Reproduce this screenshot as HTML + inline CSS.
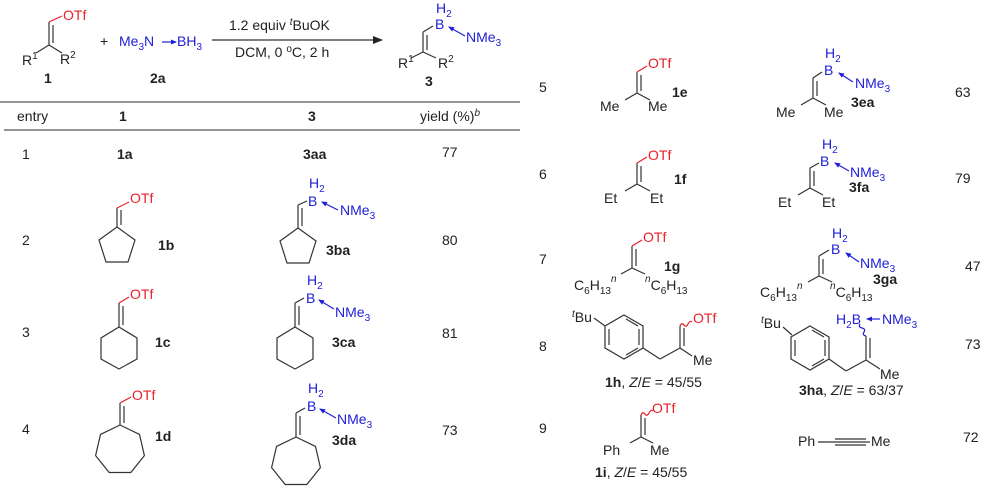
<!DOCTYPE html>
<html><head><meta charset="utf-8"><style>
html,body{margin:0;padding:0;background:#fff;}
svg{display:block;font-family:"Liberation Sans",Arial,sans-serif;font-size:14px;}
.b{font-weight:bold;}
.r{fill:#e8202a;}
.u{fill:#2020d8;}
line,polyline,polygon,path{stroke:#333;stroke-width:1.2;fill:none;}
.rs{stroke:#e8202a;}
.us{stroke:#2020d8;}
text{fill:#222;}
</style></head><body>
<svg width="997" height="501" viewBox="0 0 997 501" xmlns="http://www.w3.org/2000/svg">
<defs>
<marker id="ah" markerWidth="6" markerHeight="5" refX="5" refY="2.5" orient="auto" markerUnits="userSpaceOnUse"><path d="M0,0 L6,2.5 L0,5 Z" style="fill:#2020d8;stroke:none"/></marker>
<marker id="ak" markerWidth="10" markerHeight="8" refX="9" refY="4" orient="auto" markerUnits="userSpaceOnUse"><path d="M0,0 L10,4 L0,8 Z" style="fill:#222;stroke:none"/></marker>
</defs>

<!-- Header scheme -->
<line x1="49" y1="22" x2="49" y2="45"/><line x1="53" y1="25" x2="53" y2="43"/>
<line class="rs" x1="49" y1="22" x2="62" y2="16"/>
<text x="63" y="20" class="r">OTf</text>
<line x1="49" y1="45" x2="36" y2="53"/><line x1="49" y1="45" x2="62" y2="53"/>
<text x="22" y="65">R<tspan font-size="10" dy="-6">1</tspan></text>
<text x="60" y="64">R<tspan font-size="10" dy="-6">2</tspan></text>
<text x="44" y="83" class="b">1</text>
<text x="100" y="46">+</text>
<text x="119" y="46" class="u">Me<tspan font-size="10" dy="4">3</tspan><tspan dy="-4">N</tspan></text>
<line class="us" x1="162" y1="42" x2="176" y2="42" marker-end="url(#ah)"/>
<text x="177" y="46" class="u">BH<tspan font-size="10" dy="4">3</tspan></text>
<text x="150" y="83" class="b">2a</text>
<line x1="212" y1="40" x2="382" y2="40" marker-end="url(#ak)"/>
<text x="229" y="30">1.2 equiv <tspan font-style="italic" font-size="10" dy="-5">t</tspan><tspan dy="5">BuOK</tspan></text>
<text x="235" y="57">DCM, 0 <tspan font-size="10" dy="-5">o</tspan><tspan dy="5">C, 2 h</tspan></text>
<text x="436" y="13" class="u">H<tspan font-size="10" dy="4">2</tspan></text>
<text x="435" y="29" class="u">B</text>
<line x1="423" y1="32" x2="433" y2="26"/>
<line x1="423" y1="32" x2="423" y2="52"/><line x1="427" y1="35" x2="427" y2="50"/>
<line x1="423" y1="52" x2="411" y2="58"/><line x1="423" y1="52" x2="436" y2="58"/>
<line class="us" x1="465" y1="36" x2="449" y2="27" marker-end="url(#ah)"/>
<text x="466" y="42" class="u">NMe<tspan font-size="10" dy="4">3</tspan></text>
<text x="398" y="68">R<tspan font-size="10" dy="-6">1</tspan></text>
<text x="438" y="68">R<tspan font-size="10" dy="-6">2</tspan></text>
<text x="425" y="86" class="b">3</text>

<!-- Table lines -->
<line x1="0" y1="102" x2="520" y2="102" style="stroke:#555"/>
<line x1="4" y1="130" x2="520" y2="130" style="stroke:#555"/>
<text x="17" y="121">entry</text>
<text x="119" y="121" class="b">1</text>
<text x="308" y="121" class="b">3</text>
<text x="420" y="121">yield (%)<tspan font-size="10" dy="-5" font-style="italic">b</tspan></text>

<!-- Row 1 -->
<text x="22" y="159">1</text>
<text x="117" y="159" class="b">1a</text>
<text x="303" y="159" class="b">3aa</text>
<text x="442" y="157">77</text>

<!-- Row 2 -->
<text x="22" y="245">2</text>
<line x1="117" y1="208" x2="117" y2="227"/><line x1="121" y1="210" x2="121" y2="225"/>
<line class="rs" x1="117" y1="208" x2="129" y2="202"/>
<text x="130" y="203" class="r">OTf</text>
<polygon points="117,227 135,240 128,262 106,262 99,240"/>
<text x="158" y="250" class="b">1b</text>
<text x="309" y="188" class="u">H<tspan font-size="10" dy="4">2</tspan></text>
<text x="308" y="206" class="u">B</text>
<line x1="298" y1="205" x2="307" y2="201"/>
<line x1="298" y1="205" x2="298" y2="228"/><line x1="302" y1="208" x2="302" y2="226"/>
<polygon points="298,228 316,241 309,263 287,263 280,241"/>
<line class="us" x1="338" y1="210" x2="322" y2="202" marker-end="url(#ah)"/>
<text x="340" y="215" class="u">NMe<tspan font-size="10" dy="4">3</tspan></text>
<text x="326" y="255" class="b">3ba</text>
<text x="442" y="245">80</text>

<!-- Row 3 -->
<text x="22" y="337">3</text>
<line x1="119" y1="303" x2="119" y2="327"/><line x1="123" y1="306" x2="123" y2="325"/>
<line class="rs" x1="119" y1="303" x2="129" y2="297"/>
<text x="130" y="299" class="r">OTf</text>
<polygon points="119,327 137,338 137,359 119,369 101,359 101,338"/>
<text x="155" y="347" class="b">1c</text>
<text x="307" y="285" class="u">H<tspan font-size="10" dy="4">2</tspan></text>
<text x="306" y="303" class="u">B</text>
<line x1="295" y1="303" x2="304" y2="298"/>
<line x1="295" y1="303" x2="295" y2="327"/><line x1="299" y1="306" x2="299" y2="325"/>
<polygon points="295,327 313,338 313,359 295,369 277,359 277,338"/>
<line class="us" x1="334" y1="309" x2="319" y2="300" marker-end="url(#ah)"/>
<text x="335" y="317" class="u">NMe<tspan font-size="10" dy="4">3</tspan></text>
<text x="332" y="347" class="b">3ca</text>
<text x="442" y="338">81</text>

<!-- Row 4 -->
<text x="22" y="434">4</text>
<line x1="120" y1="403" x2="120" y2="425"/><line x1="124" y1="406" x2="124" y2="423"/>
<line class="rs" x1="120" y1="403" x2="131" y2="397"/>
<text x="132" y="400" class="r">OTf</text>
<polygon points="120,425 139.5,434.4 144.4,455.6 130.8,472.5 109.2,472.5 95.6,455.6 100.5,434.4"/>
<text x="155" y="441" class="b">1d</text>
<text x="308" y="393" class="u">H<tspan font-size="10" dy="4">2</tspan></text>
<text x="307" y="411" class="u">B</text>
<line x1="296" y1="413" x2="305" y2="408"/>
<line x1="296" y1="413" x2="296" y2="437"/><line x1="300" y1="416" x2="300" y2="435"/>
<polygon points="296,437 315.5,446.4 320.4,467.6 306.8,484.5 285.2,484.5 271.6,467.6 276.5,446.4"/>
<line class="us" x1="336" y1="418" x2="320" y2="409" marker-end="url(#ah)"/>
<text x="337" y="424" class="u">NMe<tspan font-size="10" dy="4">3</tspan></text>
<text x="332" y="445" class="b">3da</text>
<text x="442" y="435">73</text>

<!-- Row 5 -->
<text x="539" y="92">5</text>
<line x1="637" y1="72" x2="637" y2="93"/><line x1="641" y1="75" x2="641" y2="91"/>
<line class="rs" x1="637" y1="72" x2="647" y2="66"/>
<text x="648" y="68" class="r">OTf</text>
<line x1="637" y1="93" x2="625" y2="100"/><line x1="637" y1="93" x2="650" y2="100"/>
<text x="600" y="111">Me</text><text x="648" y="111">Me</text>
<text x="672" y="97" class="b">1e</text>
<text x="825" y="58" class="u">H<tspan font-size="10" dy="4">2</tspan></text>
<text x="824" y="75" class="u">B</text>
<line x1="813" y1="78" x2="822" y2="72"/>
<line x1="813" y1="78" x2="813" y2="98"/><line x1="817" y1="81" x2="817" y2="96"/>
<line x1="813" y1="98" x2="801" y2="105"/><line x1="813" y1="98" x2="826" y2="105"/>
<text x="776" y="117">Me</text><text x="824" y="117">Me</text>
<line class="us" x1="853" y1="82" x2="839" y2="73" marker-end="url(#ah)"/>
<text x="855" y="88" class="u">NMe<tspan font-size="10" dy="4">3</tspan></text>
<text x="851" y="107" class="b">3ea</text>
<text x="955" y="97">63</text>

<!-- Row 6 -->
<text x="539" y="179">6</text>
<line x1="637" y1="163" x2="637" y2="184"/><line x1="641" y1="166" x2="641" y2="182"/>
<line class="rs" x1="637" y1="163" x2="647" y2="157"/>
<text x="648" y="160" class="r">OTf</text>
<line x1="637" y1="184" x2="625" y2="191"/><line x1="637" y1="184" x2="650" y2="191"/>
<text x="604" y="203">Et</text><text x="650" y="203">Et</text>
<text x="674" y="184" class="b">1f</text>
<text x="822" y="149" class="u">H<tspan font-size="10" dy="4">2</tspan></text>
<text x="820" y="166" class="u">B</text>
<line x1="810" y1="168" x2="819" y2="163"/>
<line x1="810" y1="168" x2="810" y2="188"/><line x1="814" y1="171" x2="814" y2="186"/>
<line x1="810" y1="188" x2="798" y2="195"/><line x1="810" y1="188" x2="823" y2="195"/>
<text x="778" y="207">Et</text><text x="822" y="207">Et</text>
<line class="us" x1="849" y1="171" x2="835" y2="163" marker-end="url(#ah)"/>
<text x="850" y="177" class="u">NMe<tspan font-size="10" dy="4">3</tspan></text>
<text x="849" y="192" class="b">3fa</text>
<text x="955" y="183">79</text>

<!-- Row 7 -->
<text x="539" y="264">7</text>
<line x1="632" y1="246" x2="632" y2="268"/><line x1="636" y1="249" x2="636" y2="266"/>
<line class="rs" x1="632" y1="246" x2="642" y2="240"/>
<text x="643" y="242" class="r">OTf</text>
<line x1="632" y1="268" x2="621" y2="274"/><line x1="632" y1="268" x2="645" y2="274"/>
<text x="574" y="290">C<tspan font-size="10" dy="4">6</tspan><tspan dy="-4">H</tspan><tspan font-size="10" dy="4">13</tspan><tspan font-size="10" font-style="italic" dy="-12">n</tspan></text>
<text x="645" y="290"><tspan font-size="10" font-style="italic" dy="-8">n</tspan><tspan dy="8">C</tspan><tspan font-size="10" dy="4">6</tspan><tspan dy="-4">H</tspan><tspan font-size="10" dy="4">13</tspan></text>
<text x="664" y="271" class="b">1g</text>
<text x="832" y="238" class="u">H<tspan font-size="10" dy="4">2</tspan></text>
<text x="831" y="254" class="u">B</text>
<line x1="819" y1="256" x2="829" y2="250"/>
<line x1="819" y1="256" x2="819" y2="276"/><line x1="823" y1="259" x2="823" y2="274"/>
<line x1="819" y1="276" x2="808" y2="282"/><line x1="819" y1="276" x2="832" y2="282"/>
<text x="760" y="297">C<tspan font-size="10" dy="4">6</tspan><tspan dy="-4">H</tspan><tspan font-size="10" dy="4">13</tspan><tspan font-size="10" font-style="italic" dy="-12">n</tspan></text>
<text x="830" y="297"><tspan font-size="10" font-style="italic" dy="-8">n</tspan><tspan dy="8">C</tspan><tspan font-size="10" dy="4">6</tspan><tspan dy="-4">H</tspan><tspan font-size="10" dy="4">13</tspan></text>
<line class="us" x1="859" y1="262" x2="846" y2="253" marker-end="url(#ah)"/>
<text x="860" y="268" class="u">NMe<tspan font-size="10" dy="4">3</tspan></text>
<text x="873" y="284" class="b">3ga</text>
<text x="965" y="271">47</text>

<!-- Row 8 -->
<text x="539" y="351">8</text>
<text x="572" y="322"><tspan font-style="italic" font-size="10" dy="-5">t</tspan><tspan dy="5">Bu</tspan></text>
<line x1="594" y1="318" x2="605" y2="326"/>
<polygon points="624,315 643,326 643,348 624,359 605,348 605,326"/>
<line x1="609" y1="329" x2="609" y2="345"/><line x1="639" y1="329" x2="639" y2="345"/>
<line x1="626" y1="319" x2="638" y2="326"/><line x1="626" y1="355" x2="638" y2="348"/>
<line x1="643" y1="348" x2="660" y2="359"/><line x1="660" y1="359" x2="680" y2="348"/>
<line x1="680" y1="348" x2="680" y2="326"/><line x1="684" y1="346" x2="684" y2="328"/>
<path class="rs" d="M680,326 q2,-4 4,-1 q2,3 4,-1 q2,-4 4,-2"/>
<text x="693" y="323" class="r">OTf</text>
<line x1="680" y1="348" x2="692" y2="356"/>
<text x="693" y="365">Me</text>
<text x="605" y="387"><tspan class="b">1h</tspan>, <tspan font-style="italic">Z</tspan>/<tspan font-style="italic">E</tspan> = 45/55</text>
<text x="761" y="328"><tspan font-style="italic" font-size="10" dy="-5">t</tspan><tspan dy="5">Bu</tspan></text>
<line x1="783" y1="327" x2="792" y2="335"/>
<polygon points="810,326 829,337 829,359 810,370 791,359 791,337"/>
<line x1="795" y1="340" x2="795" y2="356"/><line x1="825" y1="340" x2="825" y2="356"/>
<line x1="812" y1="330" x2="824" y2="337"/><line x1="812" y1="366" x2="824" y2="359"/>
<line x1="829" y1="359" x2="846" y2="371"/><line x1="846" y1="371" x2="866" y2="360"/>
<line x1="866" y1="360" x2="866" y2="336"/><line x1="870" y1="358" x2="870" y2="338"/>
<path class="us" d="M866,336 q-4,-1 -2,-4 q2,-3 -2,-4 q-4,-1 -2,-4"/>
<line x1="866" y1="360" x2="880" y2="369"/>
<text x="880" y="379">Me</text>
<text x="836" y="324" class="u">H<tspan font-size="10" dy="4">2</tspan><tspan dy="-4">B</tspan></text>
<line class="us" x1="880" y1="319" x2="867" y2="319" marker-end="url(#ah)"/>
<text x="882" y="324" class="u">NMe<tspan font-size="10" dy="4">3</tspan></text>
<text x="799" y="395"><tspan class="b">3ha</tspan>, <tspan font-style="italic">Z</tspan>/<tspan font-style="italic">E</tspan> = 63/37</text>
<text x="965" y="349">73</text>

<!-- Row 9 -->
<text x="539" y="433">9</text>
<line x1="641" y1="415" x2="641" y2="437"/><line x1="645" y1="418" x2="645" y2="435"/>
<path class="rs" d="M641,415 q2,-4 4,-1 q2,3 4,-1 q2,-4 4,-2"/>
<text x="652" y="413" class="r">OTf</text>
<line x1="641" y1="437" x2="630" y2="443"/><line x1="641" y1="437" x2="653" y2="443"/>
<text x="603" y="455">Ph</text><text x="650" y="455">Me</text>
<text x="595" y="477"><tspan class="b">1i</tspan>, <tspan font-style="italic">Z</tspan>/<tspan font-style="italic">E</tspan> = 45/55</text>
<text x="798" y="446">Ph</text>
<line x1="818" y1="442" x2="835" y2="442"/>
<line x1="835" y1="439" x2="866" y2="439"/><line x1="835" y1="442" x2="866" y2="442"/><line x1="835" y1="445" x2="866" y2="445"/>
<line x1="866" y1="442" x2="870" y2="442"/>
<text x="871" y="446">Me</text>
<text x="963" y="442">72</text>
</svg>
</body></html>
